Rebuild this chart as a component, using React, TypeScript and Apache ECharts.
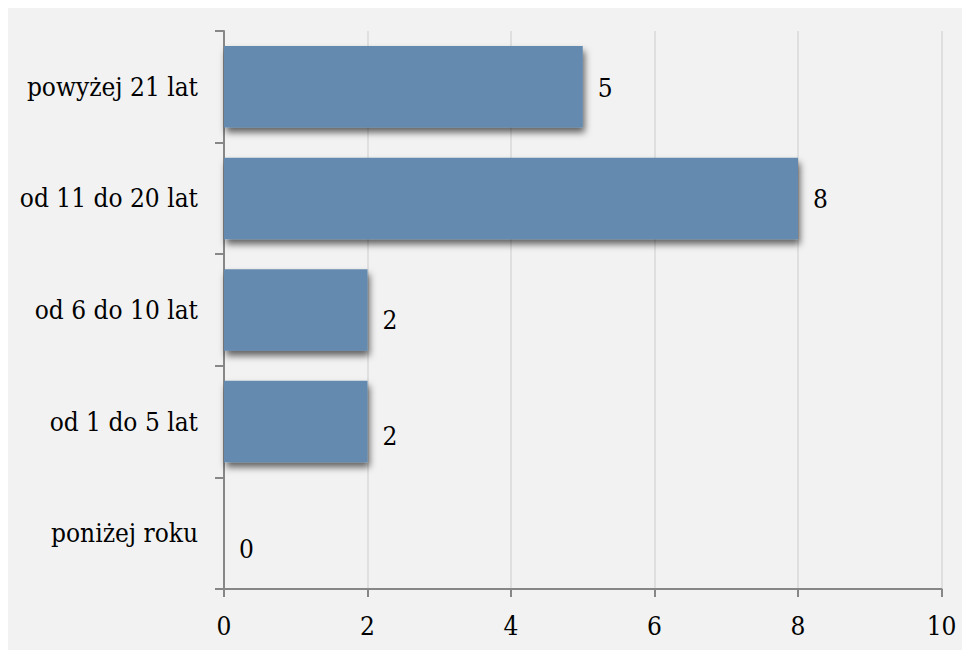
import React, { useEffect, useRef } from "react";
import * as echarts from "echarts";

const categories = ["poniżej roku", "od 1 do 5 lat", "od 6 do 10 lat", "od 11 do 20 lat", "powyżej 21 lat"];
const values = [0, 2, 2, 8, 5];
const xTicks = { min: 0, max: 10, interval: 2 };

const labelDy = [16, 14, 10, 1, 1];
const FONT = "'DejaVu Serif Condensed', 'DejaVu Serif', serif";

export default function App() {
  const ref = useRef<HTMLDivElement>(null);
  useEffect(() => {
    document.body.style.margin = "0";
    document.body.style.overflow = "hidden";
    document.documentElement.style.overflow = "hidden";
    const chart = echarts.init(ref.current!, null, { renderer: "svg" });
    chart.setOption({
      animation: false,
      backgroundColor: "#f2f2f2",
      grid: { left: 216, top: 23, right: 20.5, bottom: 61, containLabel: false },
      xAxis: {
        type: "value",
        min: xTicks.min,
        max: xTicks.max,
        interval: xTicks.interval,
        axisLine: { show: true, lineStyle: { color: "#878787", width: 2 } },
        axisTick: { show: true, length: 8, inside: false, lineStyle: { color: "#878787", width: 2 } },
        splitLine: { show: true, lineStyle: { color: "#d9d9d9", width: 1.5 } },
        axisLabel: { color: "#000", fontFamily: FONT, fontSize: 26, margin: 24 },
      },
      yAxis: {
        type: "category",
        data: categories,
        axisLine: { show: true, lineStyle: { color: "#878787", width: 2 } },
        axisTick: { show: true, length: 9, inside: false, lineStyle: { color: "#878787", width: 2 } },
        splitLine: { show: false },
        axisLabel: { color: "#000", fontFamily: FONT, fontSize: 26, margin: 26 },
      },
      series: [
        {
          type: "bar",
          data: values.map((v, i) => ({
            value: v,
            label: { offset: [0, labelDy[i]] },
          })),
          barWidth: "73%",
          itemStyle: {
            color: "#658aaf",
            shadowColor: "rgba(0,0,0,0.6)",
            shadowBlur: 7,
            shadowOffsetX: 2,
            shadowOffsetY: 5,
          },
          label: {
            show: true,
            position: "right",
            distance: 15,
            color: "#000",
            fontFamily: FONT,
            fontSize: 26,
          },
        },
      ],
    });
    return () => chart.dispose();
  }, []);
  return (
    <div style={{ width: 962, height: 650, position: "relative", overflow: "hidden", background: "#fff" }}>
      <div ref={ref} style={{ position: "absolute", left: 8, top: 8, width: 954, height: 642 }} />
    </div>
  );
}
